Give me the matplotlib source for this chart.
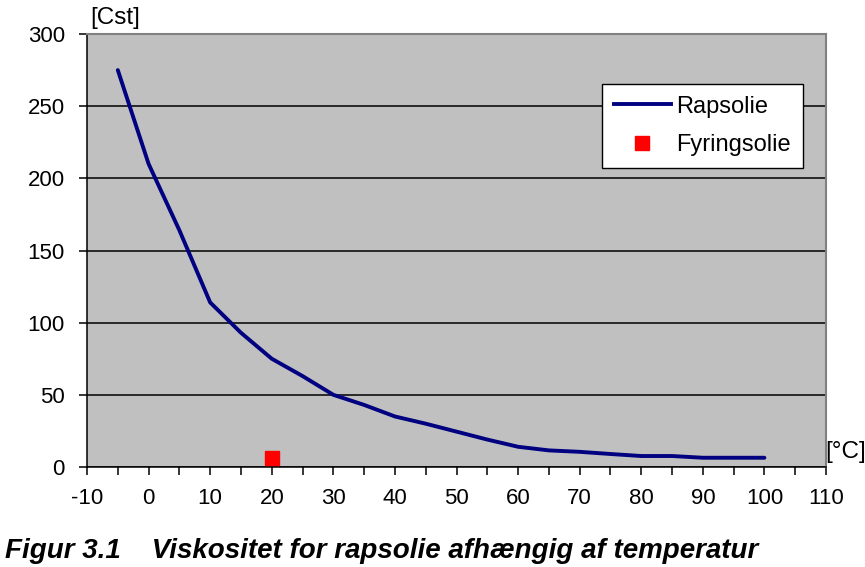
import matplotlib.pyplot as plt
from matplotlib.ticker import MultipleLocator
from matplotlib.lines import Line2D

plt.rcParams['font.family'] = ['Liberation Sans', 'DejaVu Sans']
plt.rcParams['axes.unicode_minus'] = False

# viscosity of rapeseed oil vs temperature
temp = [-5, 0, 5, 10, 15, 20, 25, 30, 35, 40, 45, 50, 55, 60, 65, 70, 75, 80, 85, 90, 95, 100]
visc = [275, 210, 164, 114, 93, 75, 63, 50, 43, 35, 30, 24.5, 19, 14, 11.5, 10.5, 9, 7.6, 7.6, 6.4, 6.4, 6.4]

# fuel oil reference point
fuel_temp = [20]
fuel_visc = [6]

fig = plt.figure(figsize=(8.65, 5.67), dpi=100)
ax = fig.add_axes([0.1006, 0.1764, 0.8543, 0.7636])
ax.set_facecolor('#C0C0C0')

ax.plot(temp, visc, color='#000080', lw=2.8, solid_capstyle='round', zorder=3)
ax.plot(fuel_temp, fuel_visc, 's', color='#FF0000', ms=9.5, zorder=3)

ax.set_xlim(-10, 110)
ax.set_ylim(0, 300)
ax.xaxis.set_major_locator(MultipleLocator(10))
ax.xaxis.set_minor_locator(MultipleLocator(5))
ax.yaxis.set_major_locator(MultipleLocator(50))
ax.grid(axis='y', color='black', lw=1.1, zorder=1)
ax.set_axisbelow(True)

ax.tick_params(axis='both', which='both', direction='out', length=6, width=1.1,
               labelsize=16, color='black')
ax.tick_params(axis='y', pad=10)
ax.tick_params(axis='x', pad=9)

for s in ['left', 'bottom']:
    ax.spines[s].set_color('black')
    ax.spines[s].set_linewidth(1.1)
for s in ['top', 'right']:
    ax.spines[s].set_color('#808080')
    ax.spines[s].set_linewidth(1.5)

handles = [Line2D([], [], color='#000080', lw=2.8),
           Line2D([], [], marker='s', ls='', color='#FF0000', ms=9.5)]
leg = ax.legend(handles, ['Rapsolie', 'Fyringsolie'], loc='upper left',
                bbox_to_anchor=(0.697, 0.885), fontsize=17, frameon=True,
                fancybox=False, edgecolor='black', framealpha=1,
                handlelength=2.4, handletextpad=0.25, borderpad=0.5,
                labelspacing=0.7, borderaxespad=0)
leg.get_frame().set_linewidth(1.0)

fig.text(0.104, 0.968, '[Cst]', fontsize=17.5, va='center', ha='left')
fig.text(0.954, 0.203, '[°C]', fontsize=17.5, va='center', ha='left')

fig.text(0.006, 0.028, 'Figur 3.1    Viskositet for rapsolie afhængig af temperatur',
         fontsize=20, fontweight='bold', fontstyle='italic', va='center', ha='left')

fig.savefig('out.png', dpi=100)
